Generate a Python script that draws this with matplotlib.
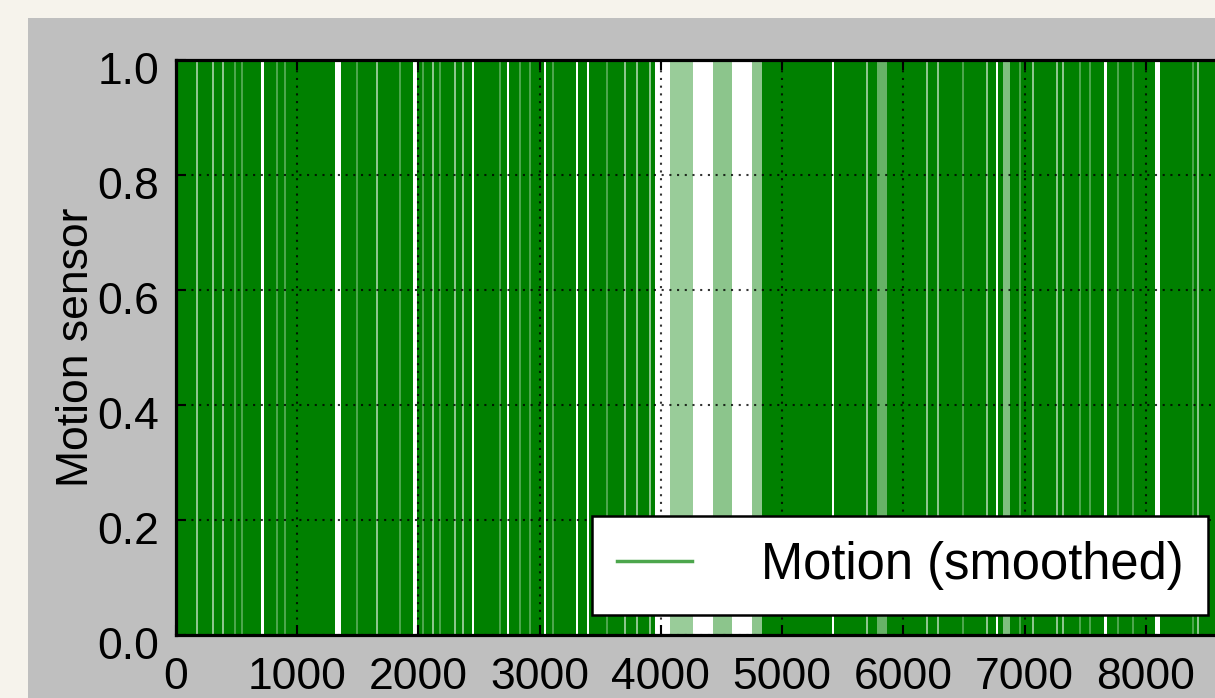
import numpy as np
import matplotlib
matplotlib.use('Agg')
import matplotlib.pyplot as plt
import matplotlib.transforms as mtransforms
from matplotlib.lines import Line2D
from matplotlib.patches import Rectangle

plt.rcParams['font.family'] = ['Liberation Sans', 'DejaVu Sans']

# Конец записи (отсчёты)
t_end = 9000

# Интервалы без движения (белые полосы)
gap_start = [705, 1315, 1958, 2438, 2727, 3032, 3298, 3389, 3955, 4265, 4590, 5410, 6762, 7652, 8075]
gap_end = [730, 1358, 1986, 2462, 2751, 3056, 3318, 3409, 4075, 4430, 4750, 5430, 6784, 7676, 8120]

# Интервалы редкого движения (светлые полосы) и их плотность
sparse_start = [165, 297, 380, 479, 537, 825, 891, 1485, 1650, 1840, 2030, 2112, 2170, 2294, 2360,
                2665, 2830, 2913, 3102, 3548, 3696, 3795, 3902, 4075, 4430, 4750, 5693, 5783, 6188,
                6279, 6485, 6683, 6823, 6955, 7062, 7260, 7310, 7450, 7532, 7764, 7887, 8382, 8424]
sparse_end = [181, 313, 396, 495, 553, 841, 907, 1501, 1666, 1856, 2046, 2128, 2186, 2310, 2376,
              2681, 2846, 2929, 3118, 3564, 3712, 3811, 3918, 4265, 4590, 4835, 5709, 5866, 6204,
              6295, 6501, 6699, 6880, 6971, 7078, 7276, 7326, 7466, 7548, 7780, 7903, 8398, 8440]
sparse_density = [0.45, 0.45, 0.45, 0.7, 0.7, 0.7, 0.7, 0.7, 0.45, 0.7, 0.7, 0.45, 0.7, 0.45, 0.45,
                  0.7, 0.7, 0.7, 0.7, 0.7, 0.45, 0.45, 0.45, 0.4, 0.45, 0.45, 0.45, 0.6, 0.45,
                  0.45, 0.7, 0.45, 0.5, 0.7, 0.45, 0.45, 0.45, 0.7, 0.7, 0.7, 0.7, 0.7, 0.45]

x_ticks = [0, 1000, 2000, 3000, 4000, 5000, 6000, 7000, 8000]
y_ticks = [0.0, 0.2, 0.4, 0.6, 0.8, 1.0]

# Интервалы постоянного движения = всё остальное
holes = sorted(zip(gap_start + sparse_start, gap_end + sparse_end))
dense = []
pos = 0
for s, e in holes:
    if s > pos:
        dense.append((pos, s - pos))
    pos = max(pos, e)
if pos < t_end:
    dense.append((pos, t_end - pos))

# Фигура
fig = plt.figure(figsize=(12.15, 6.98), dpi=100, facecolor='#f6f3ec')
fig.patches.append(Rectangle((28 / 1215, 0), 1, 680 / 698, transform=fig.transFigure,
                             facecolor='#bfbfbf', edgecolor='none', zorder=-1))
ax = fig.add_axes([176 / 1215, 63 / 698, 1091 / 1215, 575 / 698])
ax.set_facecolor('white')

# Сигнал датчика
ax.broken_barh(dense, (0, 1), facecolors='green', linewidth=0)
ax.broken_barh([(s, e - s) for s, e in zip(sparse_start, sparse_end)], (0, 1),
               facecolors=[(0, 0.5, 0, d) for d in sparse_density], linewidth=0)

ax.set_xlim(0, t_end)
ax.set_ylim(0, 1)
ax.set_xticks(x_ticks)
ax.set_yticks(y_ticks)
ax.set_yticklabels(['%.1f' % v for v in y_ticks])
ax.grid(True, color='k', linestyle=(0, (1, 2.7)), linewidth=1.5, alpha=0.8)
ax.tick_params(direction='in', length=7, width=1.5, labelsize=32,
               top=True, right=True)
ax.tick_params(axis='x', pad=16)
ax.tick_params(axis='y', pad=12)
for sp in ax.spines.values():
    sp.set_linewidth(2.3)

# Подписи по Y чуть ниже делений, как в оригинале
offset = mtransforms.ScaledTranslation(0, -8 / 100, fig.dpi_scale_trans)
for lab in ax.yaxis.get_majorticklabels():
    lab.set_transform(lab.get_transform() + offset)

ax.set_ylabel('Motion sensor', fontsize=32)
ax.yaxis.set_label_coords(-0.072, 0.5)

# Легенда
handle = Line2D([0], [0], color='green', alpha=0.7, lw=2.5)
leg = ax.legend([handle], ['Motion (smoothed)'], loc='lower right',
                bbox_to_anchor=(0.946, 0.035), borderaxespad=0, fontsize=36.5,
                handlelength=1.48, handletextpad=1.35, borderpad=0.49,
                fancybox=False, framealpha=1)
leg.get_frame().set_edgecolor('black')
leg.get_frame().set_linewidth(1.8)

fig.savefig('out.png', dpi=100, facecolor=fig.get_facecolor())
